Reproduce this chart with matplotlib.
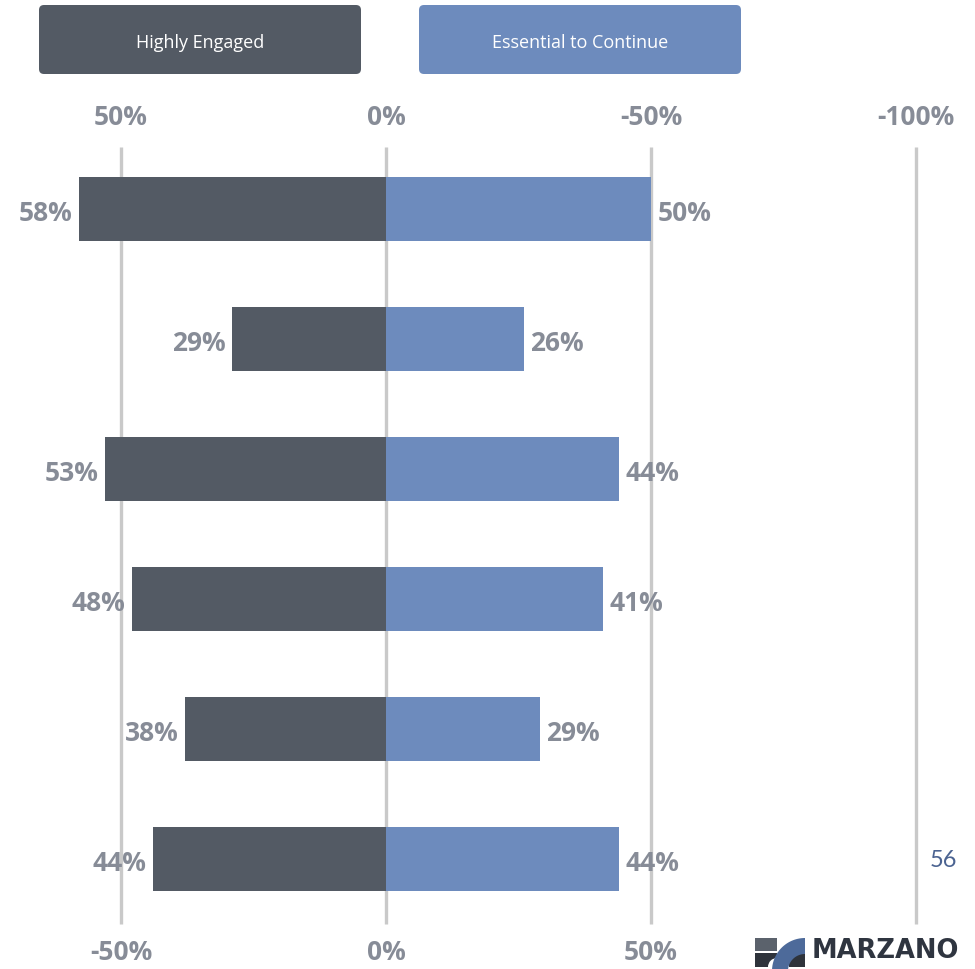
import matplotlib
matplotlib.use("Agg")
import matplotlib.pyplot as plt
import numpy as np
from matplotlib.patches import FancyBboxPatch, Rectangle, Circle, Polygon

# survey results, one row per question (top to bottom)
engaged = [58, 29, 53, 48, 38, 44]
essential = [50, 26, 44, 41, 29, 44]
series_names = ["Highly Engaged", "Essential to Continue"]

# gridline positions and the two sets of axis labels
grid_x = [-50, 0, 50, 100]
top_labels = ["50%", "0%", "-50%", "-100%"]
bottom_x = [-50, 0, 50]
bottom_labels = ["-50%", "0%", "50%"]

DARK = "#535a64"
BLUE = "#6d8bbd"
GRID = "#c9c9c9"
LABEL = "#878c97"

fig = plt.figure(figsize=(9.75, 9.7), dpi=100)

# main axes spans the whole page, x in percent, y in row index
ax = fig.add_axes([0, 0, 1, 1])
ax.set_xlim(-72.83, 111.13)
ax.set_ylim(5.846, -1.615)
ax.axis("off")

rows = np.arange(len(engaged))
ax.vlines(grid_x, -0.477, 5.5, colors=GRID, linewidth=2.4, zorder=1)

ax.barh(rows, [-v for v in engaged], height=0.49, color=DARK, zorder=2)
ax.barh(rows, essential, height=0.49, color=BLUE, zorder=2)

lab_font = dict(family="Open Sans", weight="bold", size=19, color=LABEL)
for r, v in zip(rows, engaged):
    ax.text(-v - 1.2, r + 0.03, f"{v}%", ha="right", va="center", zorder=3, **lab_font)
for r, v in zip(rows, essential):
    ax.text(v + 1.2, r + 0.03, f"{v}%", ha="left", va="center", zorder=3, **lab_font)

for x, t in zip(grid_x, top_labels):
    ax.text(x, -0.71, t, ha="center", va="center", **lab_font)
for x, t in zip(bottom_x, bottom_labels):
    ax.text(x, 5.71, t, ha="center", va="center", **lab_font)

# page decorations in pixel coordinates
deco = fig.add_axes([0, 0, 1, 1], zorder=-1)
deco.set_xlim(0, 975)
deco.set_ylim(970, 0)
deco.axis("off")

for x0, color, name in [(39, DARK, series_names[0]), (419, BLUE, series_names[1])]:
    deco.add_patch(FancyBboxPatch((x0, 6), 322, 69,
                                  boxstyle="round,pad=0,rounding_size=5",
                                  facecolor=color, edgecolor="none"))
    deco.text(x0 + 161, 43, name, ha="center", va="center",
              family="Open Sans", size=13, color="white")

deco.text(943, 861, "56", ha="center", va="center", family="Lato",
          size=17, color="#4b6391")

# logo mark
deco.add_patch(Rectangle((755, 939), 22, 13, facecolor="#5b626c", edgecolor="none"))
deco.add_patch(Rectangle((755, 954), 22, 14, facecolor="#2e333b", edgecolor="none"))
deco.add_patch(Circle((777, 968), 9, facecolor="white", edgecolor="none"))
deco.add_patch(Rectangle((789, 954), 16, 14, facecolor="#2e333b", edgecolor="none"))
t = np.linspace(np.pi, 1.5 * np.pi, 30)
outer = np.column_stack([805 + 33 * np.cos(t), 972 + 33 * np.sin(t)])
inner = np.column_stack([805 + 17 * np.cos(t[::-1]), 972 + 17 * np.sin(t[::-1])])
deco.add_patch(Polygon(np.vstack([outer, inner]), closed=True,
                       facecolor="#4d6a9a", edgecolor="none"))
deco.text(812, 951, "MARZANO", ha="left", va="center", family="DejaVu Sans",
          weight="bold", size=18.5, color="#2f3540")

fig.savefig("out.png", dpi=100, facecolor="white")
